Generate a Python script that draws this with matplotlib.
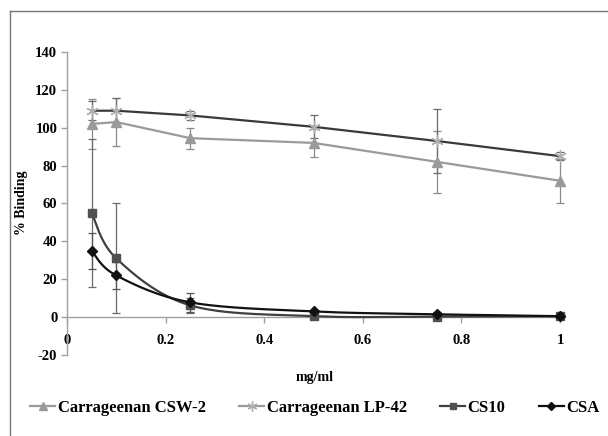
import numpy as np
import matplotlib
matplotlib.use("Agg")
import matplotlib.pyplot as plt
from matplotlib.lines import Line2D

# ---------------- data ----------------
conc = [0.05, 0.1, 0.25, 0.5, 0.75, 1.0]
series_names = ["Carrageenan CSW-2", "Carrageenan LP-42", "CS10", "CSA"]
csw2 = [102, 103, 94.5, 92, 82, 72]
csw2_err = [13, 12.5, 5.5, 7.5, 16.5, 11.5]
lp42 = [109, 109, 106.5, 100.5, 93, 85]
lp42_err = [5, 6.5, 2.5, 6, 17, 2]
cs10 = [55, 31, 6.2, 0.5, 0.3, 0.5]
cs10_err = [39, 29, 4, 0.5, 0.5, 0.5]
csa = [35, 22, 7.8, 3, 1.5, 0.5]
csa_err = [9.6, 7, 5, 1, 1, 0.5]
x_ticks = [0, 0.2, 0.4, 0.6, 0.8, 1.0]
x_tick_labels = ["0", "0.2", "0.4", "0.6", "0.8", "1"]
y_ticks = [-20, 0, 20, 40, 60, 80, 100, 120, 140]

plt.rcParams['font.family'] = ['Liberation Serif', 'DejaVu Serif']
plt.rcParams['font.weight'] = 'bold'

W, H = 608, 436
fig = plt.figure(figsize=(W / 100, H / 100), dpi=100)
ax = fig.add_axes([67 / W, (H - 355) / H, 498 / W, 303 / H])
ax.set_xlim(0, 1.01)
ax.set_ylim(-20, 140)

axis_col = "#a0a0a0"
for s in ["top", "right"]:
    ax.spines[s].set_visible(False)
ax.spines["left"].set_color(axis_col)
ax.spines["bottom"].set_color(axis_col)
ax.spines["bottom"].set_position(("data", 0))
ax.spines["left"].set_linewidth(1.0)
ax.spines["bottom"].set_linewidth(1.0)

ax.set_xticks(x_ticks)
ax.set_xticklabels(x_tick_labels)
ax.set_yticks(y_ticks)
ax.set_yticklabels([str(v) for v in y_ticks])
ax.tick_params(axis="both", direction="out", length=4, width=1.0, color=axis_col,
               labelsize=10.5, labelcolor="black")
ax.tick_params(axis="x", pad=8)
ax.tick_params(axis="y", pad=3)
for lab in ax.get_xticklabels() + ax.get_yticklabels():
    lab.set_fontweight("bold")


def excel_smooth(xs, ys, n=30):
    # Bezier smoothing (Excel style) computed in display space
    pts = ax.transData.transform(np.column_stack([xs, ys]))
    out = [pts[0]]
    m = len(pts)
    for i in range(m - 1):
        p0 = pts[i - 1] if i > 0 else pts[i]
        p1 = pts[i]
        p2 = pts[i + 1]
        p3 = pts[i + 2] if i + 2 < m else pts[i + 1]
        c1 = p1 + (p2 - p0) / 6.0
        c2 = p2 - (p3 - p1) / 6.0
        t = np.linspace(0, 1, n)[1:, None]
        seg = ((1 - t) ** 3) * p1 + 3 * ((1 - t) ** 2) * t * c1 + 3 * (1 - t) * t ** 2 * c2 + t ** 3 * p2
        out.extend(seg)
    out = np.array(out)
    d = ax.transData.inverted().transform(out)
    return d[:, 0], d[:, 1]


styles = [
    dict(y=csw2, e=csw2_err, line="#9a9a9a", mk="^", mfc="#9a9a9a", mec="#9a9a9a", ms=7, ecol="#8a8a8a", smooth=False),
    dict(y=lp42, e=lp42_err, line="#3a3a3a", mk=(6, 2, 0), mfc="#b0b0b0", mec="#b0b0b0", ms=9, ecol="#6a6a6a", smooth=False),
    dict(y=cs10, e=cs10_err, line="#404040", mk="s", mfc="#505050", mec="#505050", ms=6, ecol="#6a6a6a", smooth=True),
    dict(y=csa, e=csa_err, line="#111111", mk="D", mfc="#111111", mec="#111111", ms=5, ecol="#555555", smooth=True),
]

handles = []
for name, st in zip(series_names, styles):
    ax.errorbar(conc, st["y"], yerr=st["e"], fmt="none", ecolor=st["ecol"],
                elinewidth=0.9, capsize=3, capthick=0.9, zorder=2, clip_on=False)
    if st["smooth"]:
        sx, sy = excel_smooth(conc, st["y"])
    else:
        sx, sy = conc, st["y"]
    ax.plot(sx, sy, color=st["line"], lw=1.6, zorder=3, clip_on=False)
    ax.plot(conc, st["y"], linestyle="none", marker=st["mk"], color=st["mfc"],
            markerfacecolor=st["mfc"], markeredgecolor=st["mec"], markersize=st["ms"],
            markeredgewidth=1.0, zorder=4, clip_on=False)
    handles.append(Line2D([], [], color=st["line"] if name != "Carrageenan LP-42" else "#9a9a9a",
                          lw=1.6, marker=st["mk"], markerfacecolor=st["mfc"],
                          markeredgecolor=st["mec"], markersize=st["ms"] * 0.8, label=name))

fig.text(22 / W, 1 - 203 / H, "% Binding", rotation=90, ha="center", va="center",
         fontsize=10, fontweight="bold")
fig.text(315 / W, 1 - 377 / H, "mg/ml", ha="center", va="center",
         fontsize=10, fontweight="bold")

leg = fig.legend(handles=handles, loc="center", bbox_to_anchor=(315 / W, 1 - 408 / H),
                 ncol=4, frameon=False, handlelength=1.5, handletextpad=0.15,
                 columnspacing=2.0, prop=dict(weight="bold", size=12))

# chart area border (left and top edges visible)
fig.add_artist(Line2D([10 / W, 10 / W], [0, 1 - 11 / H], color="#777777", lw=1.0))
fig.add_artist(Line2D([10 / W, 1], [1 - 11 / H, 1 - 11 / H], color="#777777", lw=1.0))

fig.savefig("out.png", dpi=100)
